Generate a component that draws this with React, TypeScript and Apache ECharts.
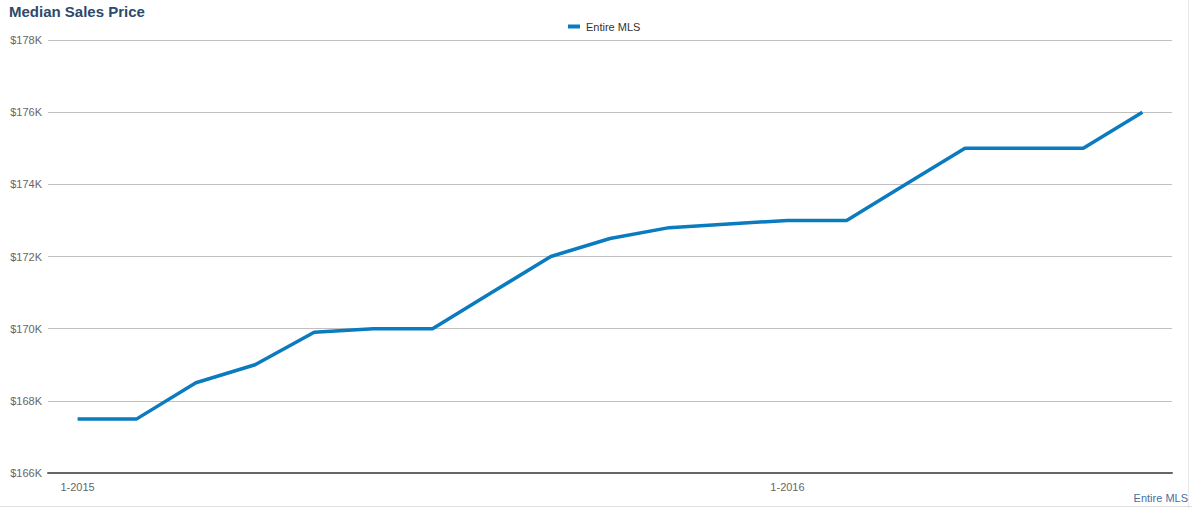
import React, { useEffect, useRef } from "react";
import * as echarts from "echarts";

const categories = [
  "1-2015", "2-2015", "3-2015", "4-2015", "5-2015", "6-2015", "7-2015", "8-2015", "9-2015", "10-2015", "11-2015", "12-2015",
  "1-2016", "2-2016", "3-2016", "4-2016", "5-2016", "6-2016", "7-2016",
];
const medianPrice = [
  167500, 167500, 168500, 169000, 169900, 170000, 170000, 171000, 172000, 172500, 172800, 172900,
  173000, 173000, 174000, 175000, 175000, 175000, 176000,
];
const seriesName = "Entire MLS";

export default function App() {
  const ref = useRef<HTMLDivElement>(null);
  useEffect(() => {
    const chart = echarts.init(ref.current!, null, { renderer: "svg" });
    chart.setOption({
      animation: false,
      backgroundColor: "#ffffff",
      textStyle: { fontFamily: "Liberation Sans, Arial, sans-serif" },
      title: {
        text: "Median Sales Price",
        left: 9,
        top: 4,
        padding: 0,
        textStyle: { fontSize: 15, fontWeight: "bold", color: "#2c4a6c", fontFamily: "Liberation Sans, Arial, sans-serif" },
      },
      legend: {
        data: [seriesName],
        top: 21,
        left: 568,
        padding: 0,
        itemWidth: 12,
        itemHeight: 4,
        itemGap: 6,
        icon: "rect",
        textStyle: { fontSize: 11, color: "#333333", padding: [0, 0, 0, 1] },
      },
      grid: { left: 48, right: 20, top: 40, bottom: 35, containLabel: false },
      xAxis: {
        type: "category",
        data: categories,
        boundaryGap: true,
        axisLine: { lineStyle: { color: "#666666", width: 2 } },
        axisTick: { interval: 11, length: 4, alignWithLabel: true, lineStyle: { color: "#666666", width: 1 } },
        axisLabel: { interval: 11, color: "#666666", fontSize: 11, margin: 8 },
        splitLine: { show: false },
      },
      yAxis: {
        type: "value",
        min: 166000,
        max: 178000,
        interval: 2000,
        axisLine: { show: false },
        axisTick: { show: false },
        axisLabel: {
          color: "#666666",
          fontSize: 11,
          margin: 6,
          formatter: (v: number) => "$" + Math.round(v / 1000) + "K",
        },
        splitLine: { lineStyle: { color: "#c0c0c0", width: 1 } },
      },
      series: [
        {
          name: seriesName,
          type: "line",
          data: medianPrice,
          symbol: "none",
          lineStyle: { color: "#0a7bbf", width: 3.5 },
          itemStyle: { color: "#0a7bbf" },
        },
      ],
      graphic: [
        { type: "line", shape: { x1: 1188.5, y1: 0, x2: 1188.5, y2: 508 }, style: { stroke: "#e8e8e8", lineWidth: 1 } },
        { type: "line", shape: { x1: 0, y1: 506.5, x2: 1192, y2: 506.5 }, style: { stroke: "#e0e0e0", lineWidth: 1 } },
        {
          type: "text",
          right: 4,
          top: 492,
          style: { text: "Entire MLS", fill: "#4a6ea0", fontSize: 11, fontFamily: "Liberation Sans, Arial, sans-serif" },
        },
      ],
    });
    return () => chart.dispose();
  }, []);
  return <div ref={ref} style={{ width: 1192, height: 508, position: "absolute", left: 0, top: 0 }} />;
}
